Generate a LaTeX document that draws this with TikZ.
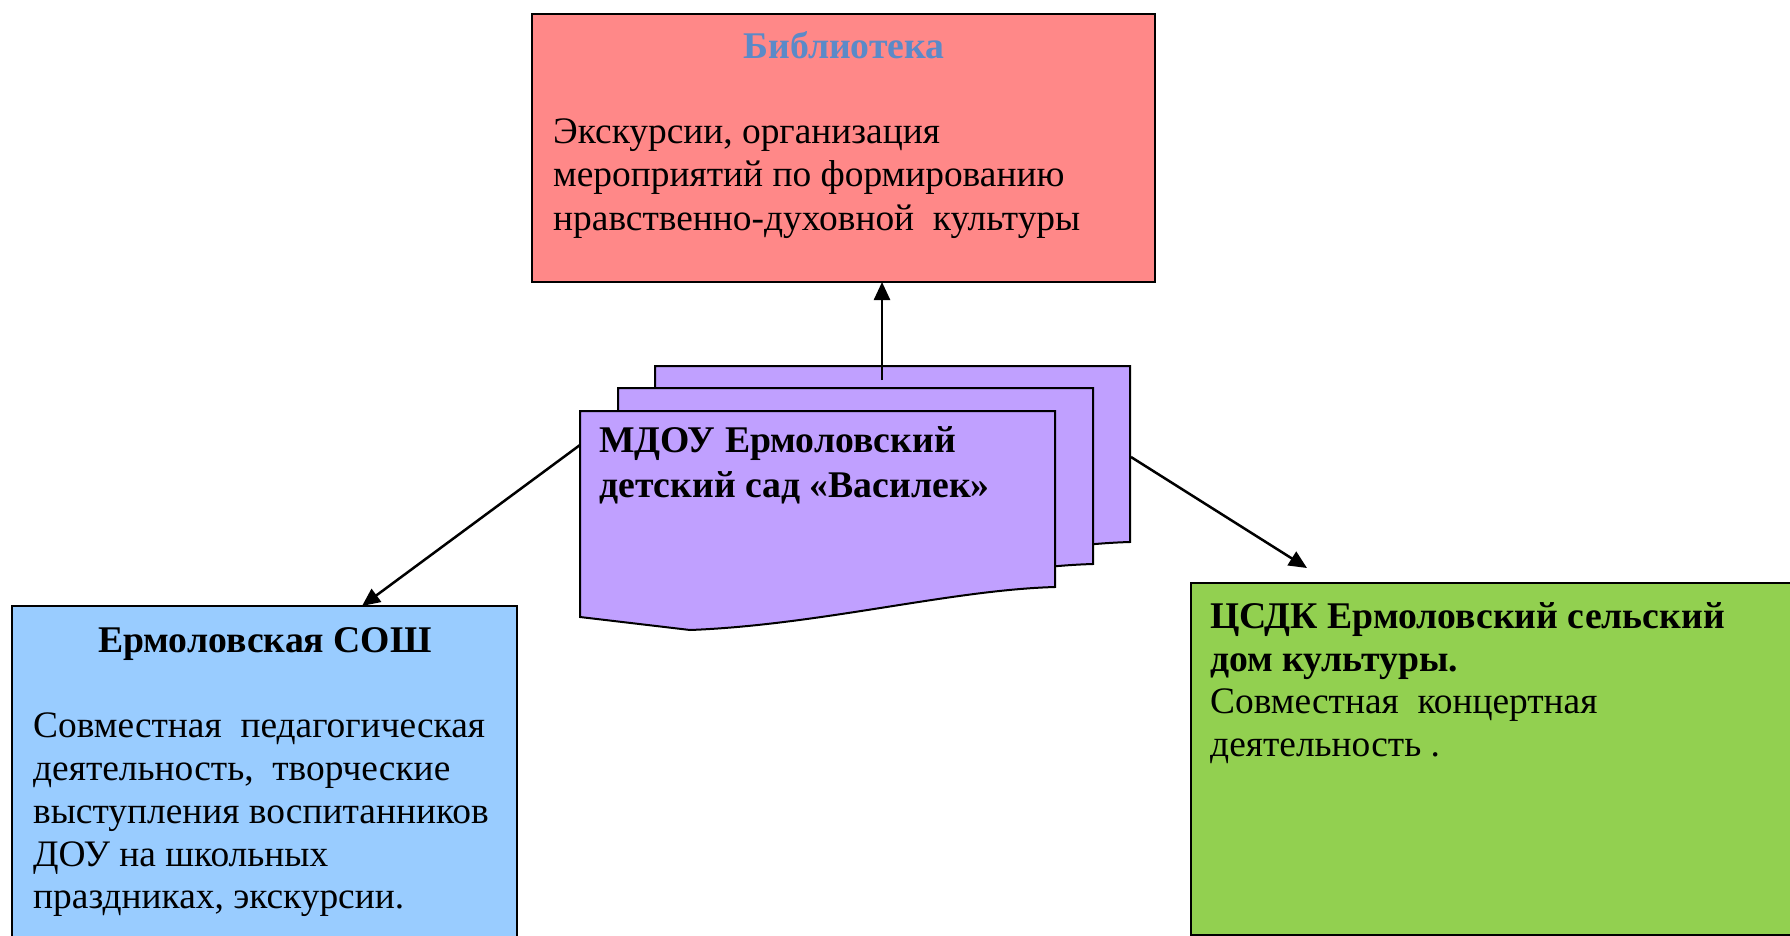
\documentclass[tikz,border=0pt]{standalone}
\usepackage{fontspec}
\setmainfont{Liberation Serif}
\usetikzlibrary{arrows.meta}
\definecolor{libred}{HTML}{FF8888}
\definecolor{libtitle}{HTML}{5B8AC8}
\definecolor{soshblue}{HTML}{99CCFF}
\definecolor{dkgreen}{HTML}{92D050}
\definecolor{pagepurple}{HTML}{C0A0FF}
\begin{document}
\begin{tikzpicture}[x=1pt,y=-1pt,
  box/.style={draw=black, line width=2pt, inner sep=0pt, outer sep=0pt, rectangle},
  pagestyle/.style={draw=black, fill=pagepurple, line width=2pt, line join=miter},
  txt/.style={anchor=base west, inner sep=0pt, font=\fontsize{37.4}{43}\selectfont},
  btxt/.style={anchor=base west, inner sep=0pt, font=\fontsize{37.7}{43}\selectfont\bfseries},
  arr/.style={draw=black, line width=2.5pt, -{Triangle[length=18pt,width=16pt]}}]
\clip (0,0) rectangle (1790,936);
\fill[white] (0,0) rectangle (1790,936);

% Library box
\node[box, fill=libred, minimum width=623pt, minimum height=268pt] (lib) at (843.5,148) {};
\node[anchor=base, inner sep=0pt, font=\fontsize{37.7}{43}\selectfont\bfseries, text=libtitle] (libt) at (844,59) {Библиотека};
\node[txt] (lib1) at (553,144) {Экскурсии, организация};
\node[txt] (lib2) at (553,187) {мероприятий по формированию};
\node[txt] (lib3) at (553,230) {нравственно-духовной\ \ культуры};

% School box
\node[box, fill=soshblue, minimum width=505pt, minimum height=344pt] (sosh) at (264.5,778) {};
\node[anchor=base, inner sep=0pt, font=\fontsize{37.7}{43}\selectfont\bfseries] (sosht) at (265,652) {Ермоловская СОШ};
\node[txt] (s1) at (33,737) {Совместная\ \ педагогическая};
\node[txt] (s2) at (33,780) {деятельность,\ \ творческие};
\node[txt] (s3) at (33,823) {выступления воспитанников};
\node[txt] (s4) at (33,866) {ДОУ на школьных};
\node[txt] (s5) at (33,908) {праздниках, экскурсии.};

% Culture house box
\node[box, fill=dkgreen, minimum width=609pt, minimum height=352pt] (dk) at (1495.5,759) {};
\node[btxt] (d1) at (1210,628) {ЦСДК Ермоловский сельский};
\node[btxt] (d2) at (1210,671) {дом культуры.};
\node[txt] (d3) at (1210,713) {Совместная\ \ концертная};
\node[txt] (d4) at (1210,756) {деятельность .};

% Stacked document pages
\begin{scope}[shift={(75,-45)}]
\filldraw[pagestyle] (580,411) -- (1055,411) -- (1055,587) .. controls (950,590) and (820,625) .. (690,630) -- (580,617) -- cycle;
\end{scope}
\begin{scope}[shift={(38,-23)}]
\filldraw[pagestyle] (580,411) -- (1055,411) -- (1055,587) .. controls (950,590) and (820,625) .. (690,630) -- (580,617) -- cycle;
\end{scope}
\filldraw[pagestyle] (580,411) -- (1055,411) -- (1055,587) .. controls (950,590) and (820,625) .. (690,630) -- (580,617) -- cycle;
\node[btxt] (m1) at (599,452) {МДОУ Ермоловский};
\node[btxt] (m2) at (599,497) {детский сад «Василек»};

% Connector endpoints
\coordinate (upS) at (882,380);
\coordinate (leftS) at (580,445);
\coordinate (leftE) at (362,606);
\coordinate (rightS) at (1131,457);
\coordinate (rightE) at (1307,568);

\draw[arr] (upS) -- (upS |- lib.south);
\draw[arr] (leftS) -- (leftE);
\draw[arr] (rightS) -- (rightE);
\end{tikzpicture}
\end{document}
